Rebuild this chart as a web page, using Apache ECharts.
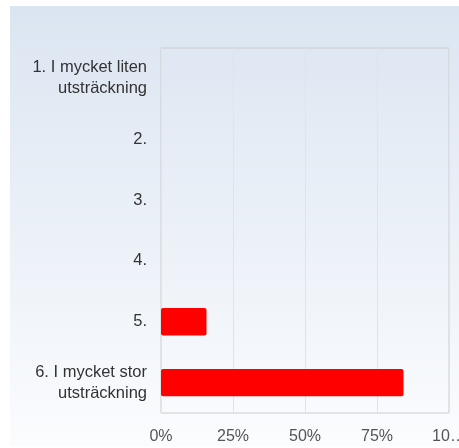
<!DOCTYPE html>
<html><head><meta charset="utf-8">
<script src="https://cdn.jsdelivr.net/npm/echarts@6/dist/echarts.min.js"></script>
<style>html,body{margin:0;padding:0;background:#fff}#c{width:459px;height:448px}</style>
</head><body><div id="c"></div>
<script>
var categories = ['1. I mycket liten\nutsträckning', '2.', '3.', '4.', '5.', '6. I mycket stor\nutsträckning'];
var values = [0, 0, 0, 0, 15.8, 84.2];
var tickValues = [0, 25, 50, 75, 100];
var tickLabels = ['0%', '25%', '50%', '75%', '10…'];

var chart = echarts.init(document.getElementById('c'), null, {renderer: 'canvas'});
chart.setOption({
  animation: false,
  graphic: [{
    type: 'rect', z: -10, silent: true,
    shape: {x: 10, y: 6, width: 449, height: 440},
    style: {fill: new echarts.graphic.LinearGradient(0, 0, 0, 1, [
      {offset: 0, color: '#dbe5f1'}, {offset: 1, color: '#fbfcfe'}])}
  }],
  grid: {left: 161, top: 48, right: 10, bottom: 35, containLabel: false, outerBoundsMode: 'none',
         show: true, borderColor: '#cccccc', borderWidth: 1, backgroundColor: 'transparent'},
  xAxis: {
    type: 'value', min: 0, max: 100, interval: 25,
    axisLine: {show: false}, axisTick: {show: false},
    splitLine: {show: true, lineStyle: {color: '#e3e3e3', width: 1}},
    axisLabel: {color: '#555', fontFamily: 'Liberation Sans, Arial', fontSize: 16, margin: 16,
      formatter: function (v) { var i = tickValues.indexOf(v); return i >= 0 ? tickLabels[i] : ''; }}
  },
  yAxis: {
    type: 'category', inverse: true, data: categories,
    axisLine: {show: false}, axisTick: {show: false},
    axisLabel: {color: '#333', fontFamily: 'Liberation Sans, Arial', fontSize: 16.5, lineHeight: 21, margin: 14, align: 'right'}
  },
  series: [{
    type: 'bar', data: values, barWidth: '45%',
    itemStyle: {color: '#ff0000', borderRadius: 2, borderWidth: 0}
  }]
});
</script></body></html>
